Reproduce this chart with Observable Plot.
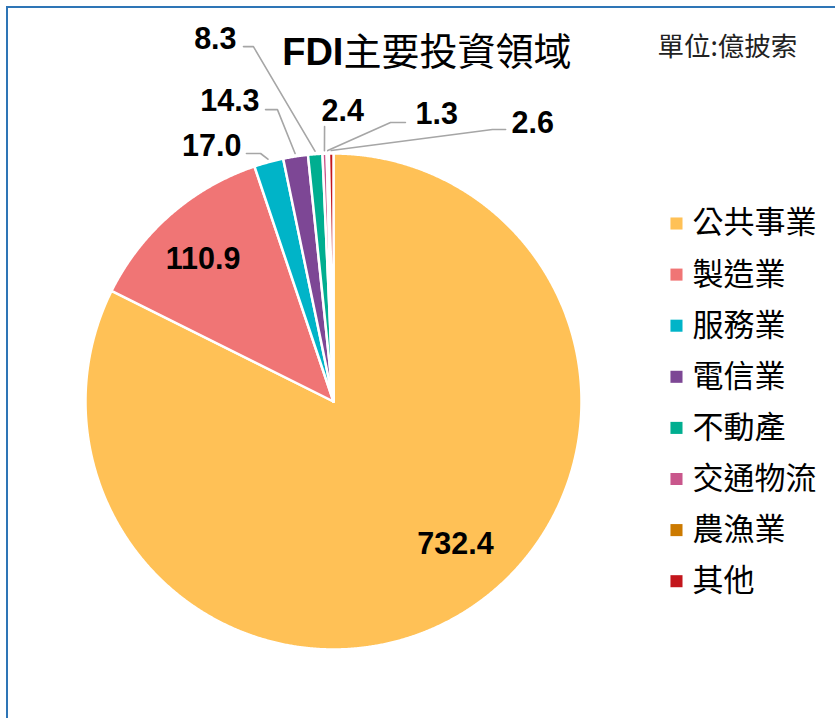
<!DOCTYPE html>
<html>
<head>
<meta charset="utf-8">
<script src="https://cdn.jsdelivr.net/npm/d3@7"></script>
<script src="https://cdn.jsdelivr.net/npm/@observablehq/plot@0.6"></script>
<style>
  html, body { margin: 0; padding: 0; background: #fff; }
  #wrap { position: relative; width: 835px; height: 718px; overflow: hidden; }
  #frame { position: absolute; left: 6px; top: 6px; right: -10px; bottom: -10px;
           border-left: 2px solid #2E75B6; border-top: 2px solid #2E75B6; pointer-events: none; }
  svg { display: block; }
</style>
</head>
<body>
<div id="wrap"><div id="chart"></div><div id="frame"></div></div>
<script>
// ---- data ----
const categories = ["公共事業", "製造業", "服務業", "電信業", "不動產", "交通物流", "農漁業", "其他"];
const values = [732.4, 110.9, 17.0, 14.3, 8.3, 2.4, 1.3, 2.6];
const colors = ["#FFC156", "#F07575", "#00B4C8", "#7D4795", "#00AE90", "#C9578C", "#CC7A00", "#C3161C"];
const titleLatin = "FDI";
const titleCJK = "主要投資領域";
const unitText = "單位:億披索";

// ---- layout (unit-circle coordinates) ----
// label anchor [x, y, anchor]
const labelLayout = [
  [0.492, -0.575, "middle"],
  [-0.526, 0.575, "middle"],
  [-0.371, 1.030, "end"],
  [-0.298, 1.212, "end"],
  [-0.391, 1.462, "end"],
  [-0.048, 1.171, "start"],
  [0.331, 1.159, "start"],
  [0.718, 1.123, "start"]
];
// leader line elbow and end points (null = no leader)
const leaderLayout = [
  null, null,
  [[-0.294, 1.0], [-0.351, 1.0]],
  [[-0.226, 1.177], [-0.274, 1.177]],
  [[-0.323, 1.431], [-0.363, 1.431]],
  [[-0.036, 1.109], [-0.036, 1.109]],
  [[0.230, 1.125], [0.290, 1.125]],
  [[0.641, 1.097], [0.694, 1.097]]
];

// ---- geometry from data ----
const arcs = d3.pie().sort(null).value(d => d)(values);
const slicePts = [];
arcs.forEach((a, i) => {
  const cat = categories[i];
  slicePts.push({cat, x: 0, y: 0});
  const n = Math.max(2, Math.ceil((a.endAngle - a.startAngle) / (Math.PI / 720)));
  for (let k = 0; k <= n; k++) {
    const t = a.startAngle + (a.endAngle - a.startAngle) * k / n;
    slicePts.push({cat, x: Math.sin(t), y: Math.cos(t)});
  }
  slicePts.push({cat, x: 0, y: 0});
});

const leaderPts = [];
arcs.forEach((a, i) => {
  const L = leaderLayout[i];
  if (!L) return;
  const m = (a.startAngle + a.endAngle) / 2;
  const r = 1.012;
  leaderPts.push({cat: categories[i], x: r * Math.sin(m), y: r * Math.cos(m)});
  leaderPts.push({cat: categories[i], x: L[0][0], y: L[0][1]});
  leaderPts.push({cat: categories[i], x: L[1][0], y: L[1][1]});
});

const labels = values.map((v, i) => ({
  text: v.toFixed(1), x: labelLayout[i][0], y: labelLayout[i][1], anchor: labelLayout[i][2]
}));

const legendRows = categories.map((c, i) => ({cat: c, y: (401 - (223 + i * 51.1)) / 248}));

const numFont = "'Liberation Sans', Arial, sans-serif";
const cjkFont = "'Noto Sans CJK TC', 'Noto Sans CJK SC', sans-serif";

const chart = Plot.plot({
  width: 835,
  height: 718,
  margin: 0,
  x: {domain: [-1, 1], range: [85, 581], axis: null},
  y: {domain: [-1, 1], range: [649, 153], axis: null},
  color: {domain: categories, range: colors},
  style: {background: "transparent"},
  marks: [
    Plot.line(slicePts, {x: "x", y: "y", z: "cat", fill: "cat", stroke: "white", strokeWidth: 2.5, strokeLinejoin: "round", curve: "linear"}),
    Plot.line(leaderPts, {x: "x", y: "y", z: "cat", stroke: "#A6A6A6", strokeWidth: 1.6}),
    ...["middle", "end", "start"].map(anc =>
      Plot.text(labels.filter(d => d.anchor === anc), {
        x: "x", y: "y", text: "text", textAnchor: anc,
        fontSize: 30.5, fontWeight: "bold", fontFamily: numFont, fill: "#000"
      })),
    Plot.text([titleLatin], {x: () => 0.040, y: () => 1.407, text: d => d, textAnchor: "end",
      fontSize: 38, fontWeight: "bold", fontFamily: numFont, fill: "#000"}),
    Plot.text([titleCJK], {x: () => 0.040, y: () => 1.407, text: d => d, textAnchor: "start",
      fontSize: 38, fontFamily: cjkFont, fill: "#000"}),
    Plot.text([unitText], {x: () => 1.306, y: () => 1.429, text: d => d, textAnchor: "start",
      fontSize: 26.5, fontFamily: cjkFont, fill: "#222"}),
    Plot.dot(legendRows, {x: () => 1.383, y: "y", fill: "cat", symbol: "square", r: 6.8}),
    Plot.text(legendRows, {x: () => 1.448, y: "y", text: "cat", textAnchor: "start",
      fontSize: 31, fontFamily: cjkFont, fill: "#000"})
  ]
});
document.getElementById("chart").appendChild(chart);
</script>
</body>
</html>
